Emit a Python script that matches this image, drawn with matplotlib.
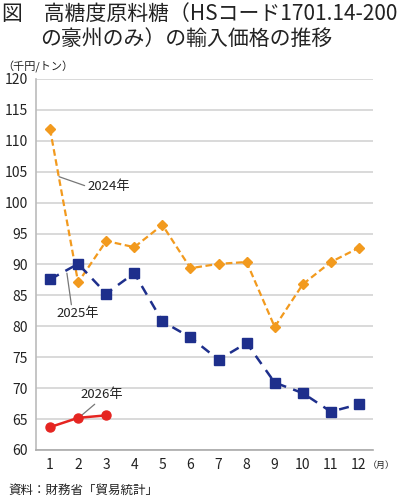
import matplotlib.pyplot as plt

plt.rcParams['font.family'] = ['Noto Sans CJK JP', 'DejaVu Sans']

months = list(range(1, 13))
y2024 = [111.9, 87.1, 93.8, 92.8, 96.4, 89.4, 90.1, 90.4, 79.9, 86.8, 90.4, 92.7]
y2025 = [87.6, 90.1, 85.3, 88.6, 80.8, 78.2, 74.6, 77.3, 70.9, 69.2, 66.2, 67.4]
months_2026 = [1, 2, 3]
y2026 = [63.7, 65.2, 65.6]
yticks = list(range(60, 121, 5))

fig = plt.figure(figsize=(4.0, 4.98), dpi=100)
ax = fig.add_axes([0.09, 0.0964, 0.8425, 0.745])

ax.plot(months, y2024, color='#F29A1E', linewidth=1.6, linestyle=(0, (3, 1.6)),
        marker='D', markersize=5.5, zorder=3)
ax.plot(months, y2025, color='#1E2F8C', linewidth=1.8, linestyle=(0, (4, 3)),
        marker='s', markersize=7, zorder=4)
ax.plot(months_2026, y2026, color='#E52521', linewidth=1.8,
        marker='o', markersize=6.5, zorder=5)

ax.set_xlim(0.5, 12.5)
ax.set_ylim(60, 120)
ax.set_yticks(yticks)
ax.set_xticks(months)
ax.grid(axis='y', color='#D3D3D3', linewidth=1.2)
ax.set_axisbelow(True)
for s in ['top', 'right']:
    ax.spines[s].set_visible(False)
ax.spines['left'].set_color('#BBBBBB')
ax.spines['bottom'].set_color('#AAAAAA')
ax.spines['left'].set_linewidth(1.2)
ax.spines['bottom'].set_linewidth(1.2)
ax.tick_params(length=0, labelsize=10, colors='#222222', pad=6)

# leader lines and labels
lead = dict(arrowstyle='-', color='#777777', lw=0.9, shrinkA=0, shrinkB=0)
ax.annotate('2024年', xy=(1.32, 104.2), xytext=(2.33, 102.6), fontsize=9.5,
            va='center', ha='left', color='#222222',
            arrowprops=dict(lead, relpos=(0, 0.5)))
ax.annotate('2025年', xy=(1.6, 88.6), xytext=(2.0, 82.0), fontsize=9.5,
            va='center', ha='center', color='#222222',
            arrowprops=dict(lead, relpos=(0.35, 1.0)))
ax.annotate('2026年', xy=(2.07, 65.4), xytext=(2.1, 68.9), fontsize=9.5,
            va='center', ha='left', color='#222222',
            arrowprops=dict(lead, relpos=(0.4, 0.0)))

fig.text(0.005, 0.972, '図　高糖度原料糖（HSコード1701.14-200', fontsize=15,
         va='center', ha='left', color='#222222')
fig.text(0.1, 0.921, 'の豪州のみ）の輸入価格の推移', fontsize=15,
         va='center', ha='left', color='#222222')
fig.text(0.005, 0.866, '（千円/トン）', fontsize=8, va='center', ha='left', color='#222222')
fig.text(0.92, 0.066, '（月）', fontsize=6.5, va='center', ha='left', color='#222222')
fig.text(0.02, 0.016, '資料：財務省「貿易統計」', fontsize=9, va='center', ha='left', color='#222222')

plt.savefig('out.png', dpi=100)
